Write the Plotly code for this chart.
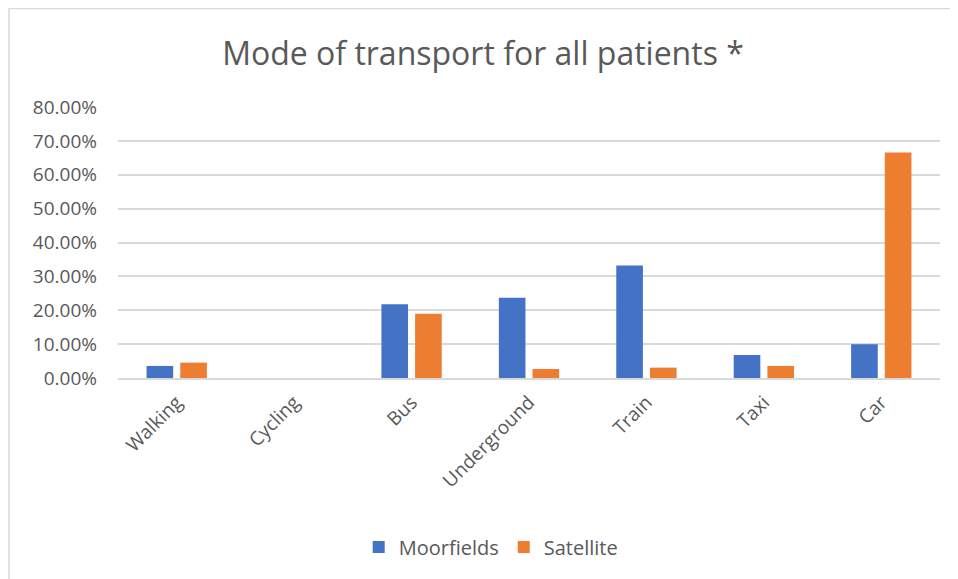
import plotly.graph_objects as go

categories = ["Walking", "Cycling", "Bus", "Underground", "Train", "Taxi", "Car"]
moorfields = [0.0356, 0.0, 0.2175, 0.2370, 0.3320, 0.0680, 0.0997]
satellite = [0.0454, 0.0, 0.1900, 0.0267, 0.0306, 0.0356, 0.6660]
y_ticks = [0, 0.1, 0.2, 0.3, 0.4, 0.5, 0.6, 0.7, 0.8]

# page body has an 8px margin, so the figure starts at (8, 8) on screen
W, H = 950, 571
L, R, T, B = 110, 18, 99, 201
pw, ph = W - L - R, H - T - B

FONT = "Open Sans"
GRAY = "#595959"

fig = go.Figure()
fig.add_trace(go.Bar(x=categories, y=moorfields, name="Moorfields",
                     marker=dict(color="#4472C4", line=dict(width=0))))
fig.add_trace(go.Bar(x=categories, y=satellite, name="Satellite",
                     marker=dict(color="#ED7D31", line=dict(width=0))))

fig.update_layout(
    width=W, height=H,
    margin=dict(l=L, r=R, t=T, b=B),
    paper_bgcolor="white", plot_bgcolor="white",
    barmode="group", bargap=0.426, bargroupgap=0.21,
    font=dict(family=FONT, color=GRAY, size=20),
    title=dict(text="Mode of transport for all patients *", x=0.5, xanchor="center",
               y=1 - 46 / H, yanchor="middle", font=dict(size=32, color=GRAY, family=FONT)),
    xaxis=dict(tickangle=-45, showgrid=False, showline=True, linecolor="#d9d9d9", linewidth=1.5,
               tickfont=dict(size=19, color=GRAY), ticks="", ticklabelstandoff=4, automargin=False),
    yaxis=dict(range=[0, 0.8], tickvals=y_ticks, tickformat=".2%", showgrid=True,
               gridcolor="#d9d9d9", gridwidth=1.5, zeroline=False, showline=False,
               tickfont=dict(size=19, color=GRAY), ticks="", ticklabelstandoff=20, automargin=False),
    legend=dict(orientation="h", x=0.454, xanchor="center", y=(370 - 539) / ph, yanchor="middle",
                font=dict(size=20, color=GRAY), itemwidth=30),
    shapes=[dict(type="rect", xref="paper", yref="paper",
                 x0=-(L - 1) / pw, x1=1 + (R + 20) / pw,
                 y0=-(B + 20) / ph, y1=1 + (T - 0.5) / ph,
                 line=dict(color="#d9d9d9", width=1.5), layer="below")],
)
fig.write_html("out.html")
